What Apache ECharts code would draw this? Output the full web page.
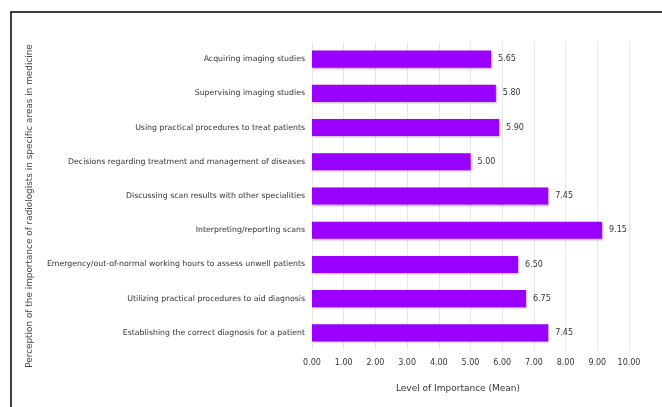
<!DOCTYPE html>
<html><head><meta charset="utf-8">
<script src="https://cdn.jsdelivr.net/npm/echarts@6/dist/echarts.min.js"></script>
<style>html,body{margin:0;padding:0;background:#fff}#c{width:662px;height:407px}</style>
</head><body><div id="c"></div>
<script>
const categories = [
  "Acquiring imaging studies",
  "Supervising imaging studies",
  "Using practical procedures to treat patients",
  "Decisions regarding treatment and management of diseases",
  "Discussing scan results with other specialities",
  "Interpreting/reporting scans",
  "Emergency/out-of-normal working hours to assess unwell patients",
  "Utilizing practical procedures to aid diagnosis",
  "Establishing the correct diagnosis for a patient"
];
const meanValues = [5.65, 5.80, 5.90, 5.00, 7.45, 9.15, 6.50, 6.75, 7.45];
const xTicks = [0, 1, 2, 3, 4, 5, 6, 7, 8, 9, 10];
const xAxisTitle = "Level of Importance (Mean)";
const yAxisTitle = "Perception of the importance of radiologists in specific areas in medicine";

const font = "'DejaVu Sans', Verdana, sans-serif";
const chart = echarts.init(document.getElementById('c'), null, {renderer: 'canvas'});
chart.setOption({
  animation: false,
  backgroundColor: '#fff',
  graphic: [{
    type: 'rect', silent: true, z: -1,
    shape: {x: 11, y: 12, width: 700, height: 500},
    style: {fill: 'none', stroke: '#000', lineWidth: 1.5}
  }],
  grid: {left: 312, right: 33, top: 42, bottom: 57, containLabel: false},
  xAxis: {
    type: 'value', min: xTicks[0], max: xTicks[xTicks.length - 1], interval: 1,
    axisLine: {show: false}, axisTick: {show: false},
    splitLine: {show: true, lineStyle: {color: '#e6e6e6', width: 1}},
    axisLabel: {formatter: v => v.toFixed(2), color: '#333', fontSize: 8, fontFamily: font, margin: 9},
    name: xAxisTitle, nameLocation: 'middle', nameGap: 34,
    nameTextStyle: {color: '#333', fontSize: 9, fontFamily: font, padding: [0, 25, 0, 0]}
  },
  yAxis: {
    type: 'category', data: categories, inverse: true,
    axisLine: {show: false}, axisTick: {show: false},
    axisLabel: {color: '#333', fontSize: 7.8, fontFamily: font, margin: 7},
    name: yAxisTitle, nameLocation: 'middle', nameGap: 278, nameRotate: 90,
    nameTextStyle: {color: '#444', fontSize: 8.9, fontFamily: font, padding: [0, 20, 0, 0]}
  },
  series: [{
    type: 'bar', data: meanValues, barWidth: '50%',
    itemStyle: {color: '#9900ff', shadowColor: 'rgba(80,0,80,0.35)', shadowBlur: 2, shadowOffsetX: 1, shadowOffsetY: 1},
    label: {show: true, position: 'right', distance: 7, formatter: p => p.value.toFixed(2), color: '#333', fontSize: 8, fontFamily: font}
  }]
});
</script></body></html>
